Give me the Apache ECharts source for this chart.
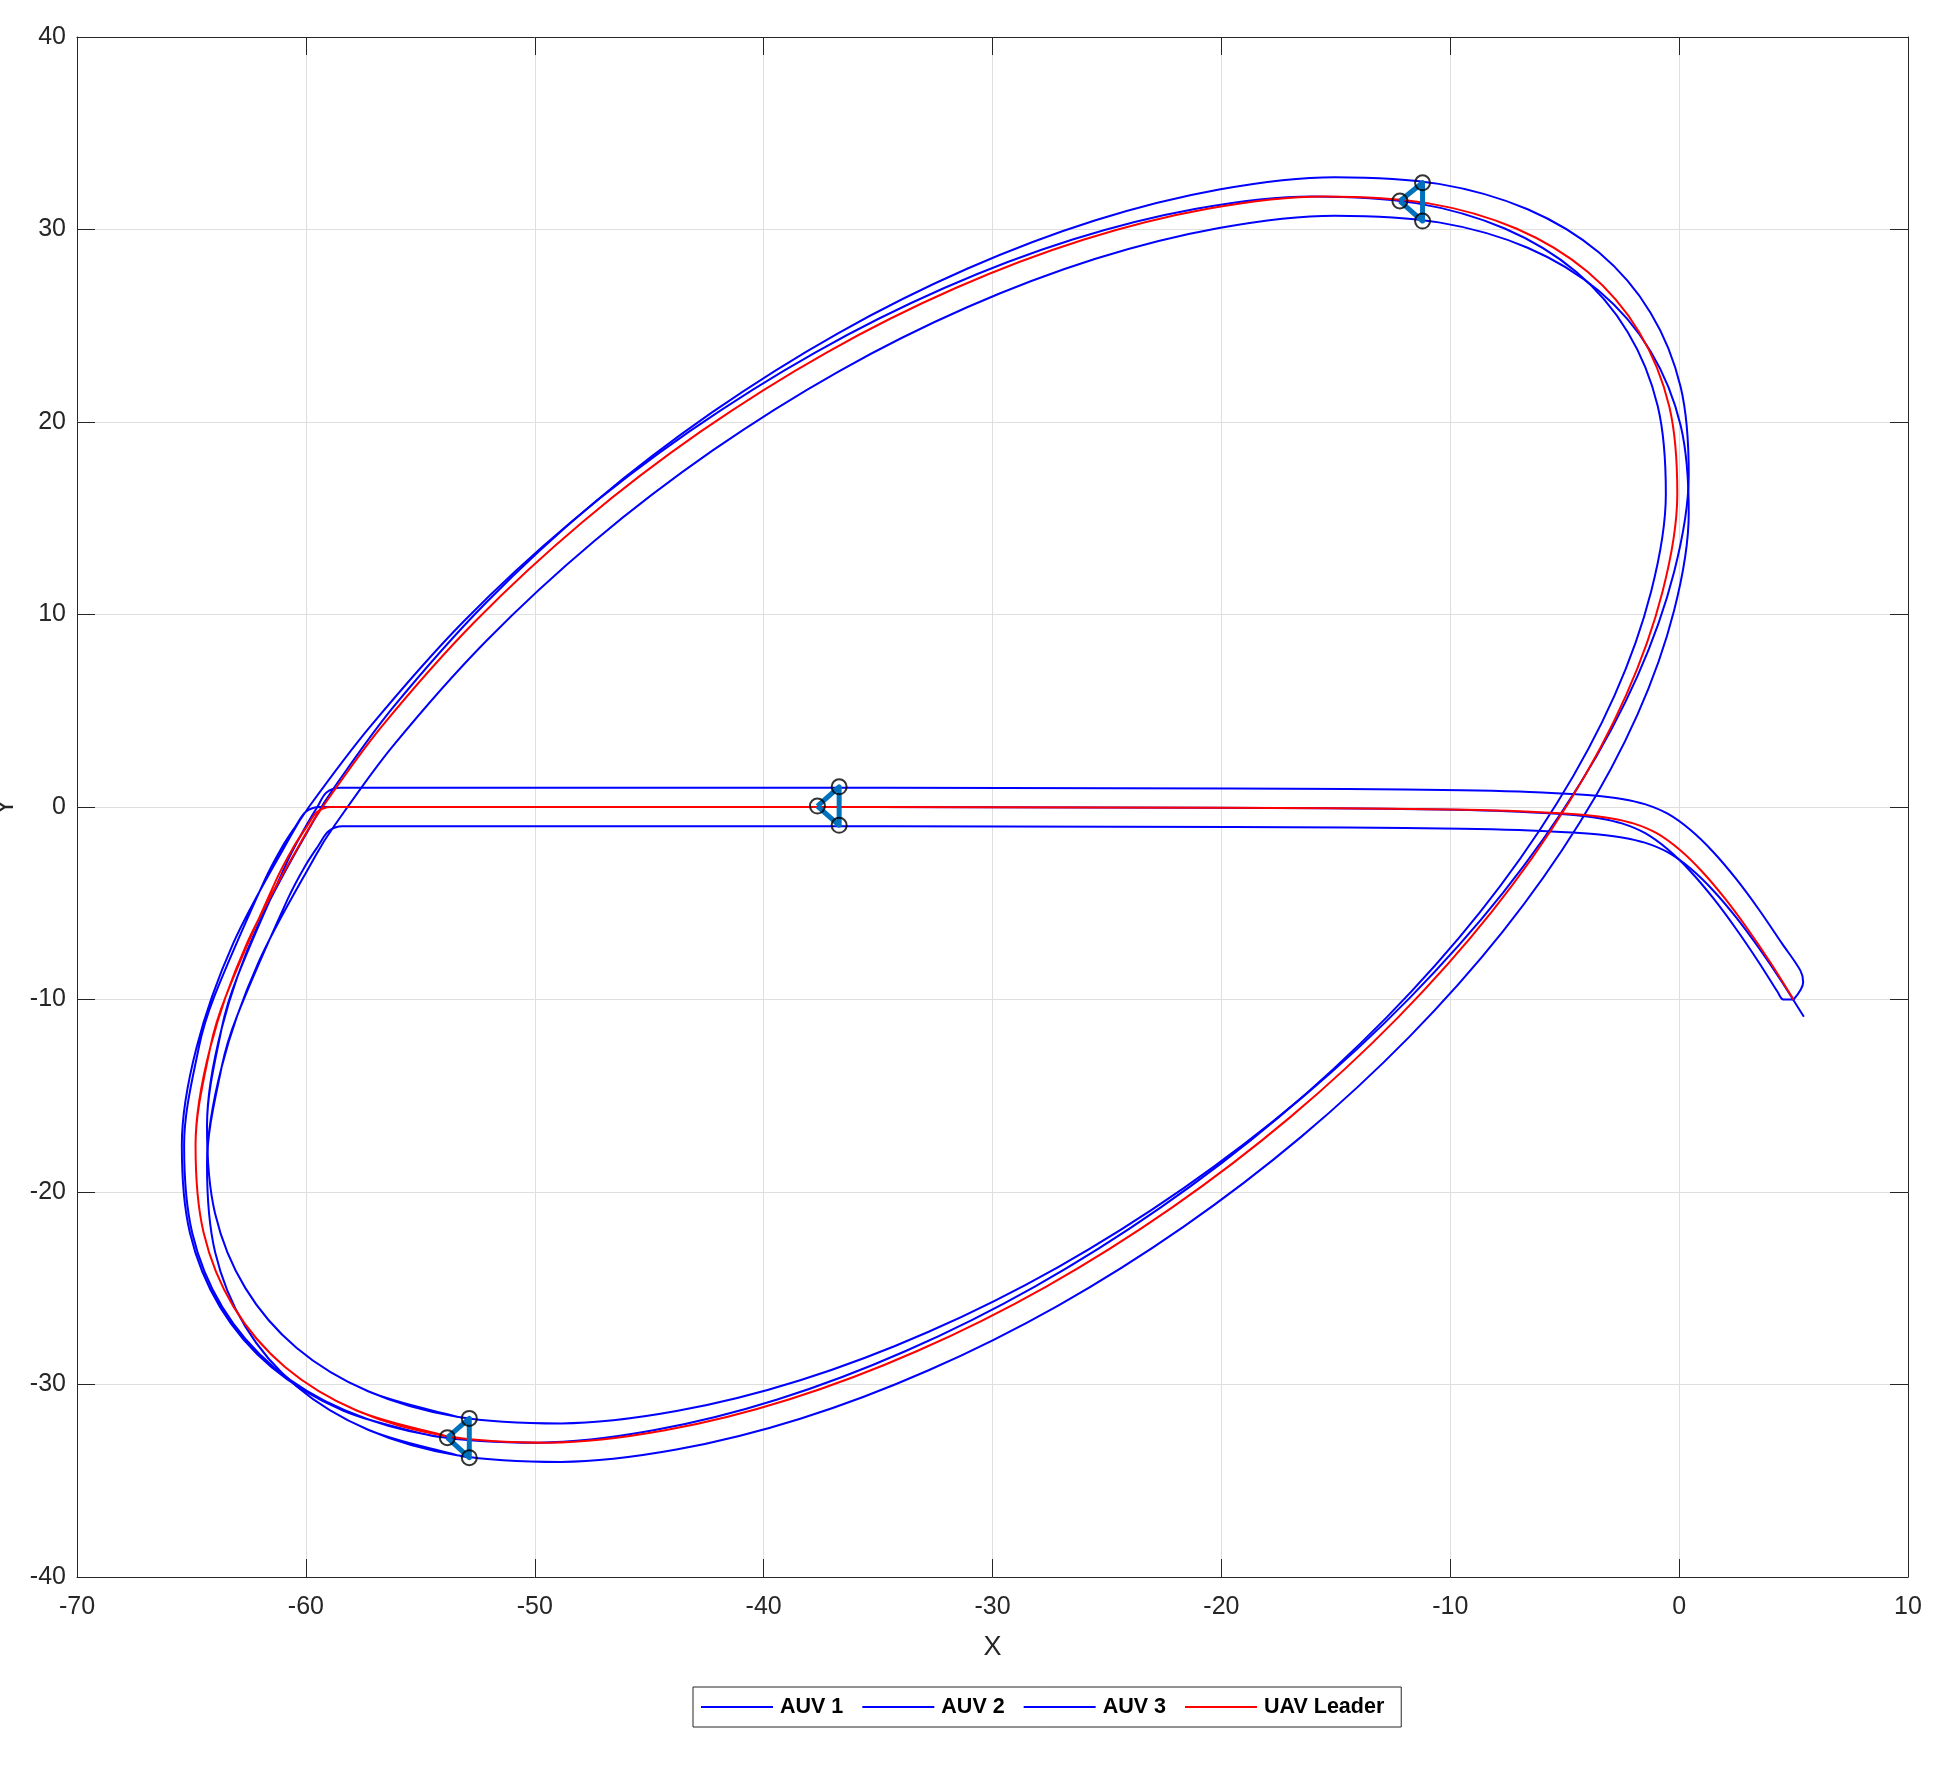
<!DOCTYPE html>
<html><head><meta charset="utf-8">
<script src="https://cdn.jsdelivr.net/npm/echarts@6/dist/echarts.min.js"></script>
<style>html,body{margin:0;padding:0;background:#fff}#c{width:1959px;height:1767px}</style>
</head><body><div id="c"></div>
<script>
const xTicks = [-70,-60,-50,-40,-30,-20,-10,0,10];
const yTicks = [-40,-30,-20,-10,0,10,20,30,40];
const seriesNames = ['AUV 1','AUV 2','AUV 3','UAV Leader'];

const leaderPath = [[5.0,-10.0],[4.0,-8.1],[3.0,-6.35],[2.0,-4.75],[1.0,-3.35],[0.0,-2.2],[-1.0,-1.35],[-2.0,-0.85],[-3.0,-0.58],[-4.0,-0.43],[-5.2,-0.33],[-7.5,-0.2],[-10.0,-0.13],[-15.0,-0.07],[-20.0,-0.04],[-30.0,-0.01],[-40.0,0.0],[-50.0,0.0],[-57.0,0.0],[-58.9,0.0],[-59.5,-0.25],[-59.95,-1.0],[-60.55,-2.1],[-61.3,-3.8],[-63.5,-9.84],
[-64.18,-12.51],[-64.82,-17.56],[-64.47,-22.10],[-63.15,-25.98],[-60.90,-29.10],[-57.78,-31.35],[-53.90,-32.67],[-49.36,-33.02],[-44.31,-32.38],[-38.90,-30.78],[-33.29,-28.26],[-27.65,-24.91],[-22.16,-20.81],[-16.99,-16.11],[-12.29,-10.94],[-8.19,-5.45],[-4.84,0.19],[-2.32,5.80],[-0.72,11.21],[-0.08,16.26],[-0.43,20.80],[-1.75,24.68],[-4.00,27.80],[-7.12,30.05],[-11.00,31.37],[-15.54,31.72],[-20.60,31.08],[-26.00,29.48],[-31.61,26.96],[-37.25,23.61],[-42.74,19.51],[-47.91,14.81],[-52.61,9.64],[-56.71,4.15],
[-59.27,0.0],[-60.06,-1.49],[-62.58,-7.10],[-64.18,-12.51],[-64.82,-17.56],[-64.47,-22.10],[-63.15,-25.98],[-60.90,-29.10],[-57.78,-31.35],[-53.90,-32.67],[-53.3,-32.8]];

const auv1Path = [[5.0,-10.0],[4.55,-10.0],[4.3,-9.6],[3.5,-8.1],[2.5,-6.35],[1.5,-4.75],[0.5,-3.35],[-0.5,-2.2],[-1.5,-1.35],[-2.5,-0.85],[-3.5,-0.58],[-4.5,-0.43],[-5.7,-0.33],[-8.0,-0.2],[-10.5,-0.13],[-15.5,-0.07],[-20.5,-0.04],[-30.5,-0.01],[-40.5,0.0],[-50.5,0.0],[-57.5,0.0],[-59.4,0.0],[-60.0,-0.25],[-60.45,-1.0],[-61.05,-2.1],[-61.8,-3.8],[-64.0,-9.84],
[-64.68,-12.51],[-65.32,-17.56],[-64.97,-22.10],[-63.65,-25.98],[-61.40,-29.10],[-58.28,-31.35],[-54.40,-32.67],[-49.86,-33.02],[-44.81,-32.38],[-39.40,-30.78],[-33.79,-28.26],[-28.15,-24.91],[-22.66,-20.81],[-17.49,-16.11],[-12.79,-10.94],[-8.69,-5.45],[-5.34,0.19],[-2.82,5.80],[-1.22,11.21],[-0.58,16.26],[-0.93,20.80],[-2.25,24.68],[-4.50,27.80],[-7.62,30.05],[-11.50,31.37],[-16.04,31.72],[-21.10,31.08],[-26.50,29.48],[-32.11,26.96],[-37.75,23.61],[-43.24,19.51],[-48.41,14.81],[-53.11,9.64],[-57.21,4.15],
[-59.87,0.0],[-60.66,-1.49],[-63.18,-7.10],[-64.78,-12.51],[-65.42,-17.56],[-65.07,-22.10],[-63.75,-25.98],[-61.50,-29.10],[-58.38,-31.35],[-54.50,-32.67],[-53.82,-32.76]];

const auv2Path = [[5.0,-10.0],[5.42,-9.1],[5.3,-8.5],[4.5,-7.1],[3.5,-5.35],[2.5,-3.75],[1.5,-2.35],[0.5,-1.2],[-0.5,-0.35],[-1.5,0.15],[-2.5,0.42],[-3.5,0.57],[-4.7,0.67],[-7.0,0.8],[-9.5,0.87],[-14.5,0.93],[-19.5,0.96],[-29.5,0.99],[-39.5,1.0],[-49.5,1.0],[-56.5,1.0],[-58.5,1.0],[-59.1,0.75],[-59.5,0.0],[-60.05,-1.1],[-60.8,-2.8],[-63.0,-8.84],
[-63.68,-11.51],[-64.32,-16.56],[-63.97,-21.10],[-62.65,-24.98],[-60.40,-28.10],[-57.28,-30.35],[-53.40,-31.67],[-48.86,-32.02],[-43.81,-31.38],[-38.40,-29.78],[-32.79,-27.26],[-27.15,-23.91],[-21.66,-19.81],[-16.49,-15.11],[-11.79,-9.94],[-7.69,-4.45],[-4.34,1.19],[-1.82,6.80],[-0.22,12.21],[0.42,17.26],[0.07,21.80],[-1.25,25.68],[-3.50,28.80],[-6.62,31.05],[-10.50,32.37],[-15.04,32.72],[-20.10,32.08],[-25.50,30.48],[-31.11,27.96],[-36.75,24.61],[-42.24,20.51],[-47.41,15.81],[-52.11,10.64],[-56.21,5.15],
[-58.77,1.0],[-59.56,-0.49],[-62.08,-6.10],[-63.68,-11.51],[-64.32,-16.56],[-63.97,-21.10],[-62.65,-24.98],[-60.40,-28.10],[-57.28,-30.35],[-53.40,-31.67],[-52.86,-31.76]];

const auv3Path = [[5.45,-10.9],[4.5,-9.1],[3.5,-7.35],[2.5,-5.75],[1.5,-4.35],[0.5,-3.2],[-0.5,-2.35],[-1.5,-1.85],[-2.5,-1.58],[-3.5,-1.43],[-4.7,-1.33],[-7.0,-1.2],[-9.5,-1.13],[-14.5,-1.07],[-19.5,-1.04],[-29.5,-1.01],[-39.5,-1.0],[-49.5,-1.0],[-56.5,-1.0],[-58.4,-1.0],[-59.0,-1.25],[-59.45,-2.0],[-60.05,-3.1],[-60.8,-4.8],[-63.0,-10.84],
[-63.68,-13.51],[-64.32,-18.56],[-63.97,-23.10],[-62.65,-26.98],[-60.40,-30.10],[-57.28,-32.35],[-53.40,-33.67],[-48.86,-34.02],[-43.81,-33.38],[-38.40,-31.78],[-32.79,-29.26],[-27.15,-25.91],[-21.66,-21.81],[-16.49,-17.11],[-11.79,-11.94],[-7.69,-6.45],[-4.34,-0.81],[-1.82,4.80],[-0.22,10.21],[0.42,15.26],[0.07,19.80],[-1.25,23.68],[-3.50,26.80],[-6.62,29.05],[-10.50,30.37],[-15.04,30.72],[-20.10,30.08],[-25.50,28.48],[-31.11,25.96],[-36.75,22.61],[-42.24,18.51],[-47.41,13.81],[-52.11,8.64],[-56.21,3.15],
[-58.77,-1.0],[-59.56,-2.49],[-62.08,-8.10],[-63.68,-13.51],[-64.32,-18.56],[-63.97,-23.10],[-62.65,-26.98],[-60.40,-30.10],[-57.28,-32.35],[-53.40,-33.67],[-52.86,-33.8]];

const formationA = [[-37.65,0.05],[-36.7,1.05],[-36.7,-0.95]];
const formationB = [[-12.2,31.48],[-11.21,32.43],[-11.21,30.44]];
const formationC = [[-53.82,-32.76],[-52.86,-31.76],[-52.86,-33.8]];

const FONT = "'Liberation Sans',Arial,Helvetica,sans-serif";
const AX = '#262626';

function pathSeries(name, data, color){
  return {name, type:'line', data, symbol:'none', showSymbol:false, smooth:0.33,
    lineStyle:{color, width:2}, itemStyle:{color}, z:2, animation:false};
}
function triSeries(pts){
  return {type:'line', data: pts.concat([pts[0]]), symbol:'none', smooth:false,
    lineStyle:{color:'#0072BD', width:5, join:'round'}, z:3, animation:false, silent:true};
}
const baseAxis = {
  type:'value', axisLine:{show:true, onZero:false, lineStyle:{color:AX, width:1}},
  axisTick:{show:true, inside:true, length:18, lineStyle:{color:AX, width:1}},
  splitLine:{show:false}
};
const chart = echarts.init(document.getElementById('c'));
chart.setOption({
  animation:false,
  backgroundColor:'#ffffff',
  grid:{left:77, right:51, top:37, bottom:190, containLabel:false, outerBoundsMode:'none'},
  xAxis:[
    Object.assign({}, baseAxis, {position:'bottom', min:xTicks[0], max:xTicks[xTicks.length-1], interval:xTicks[1]-xTicks[0],
      splitLine:{show:true, lineStyle:{color:'#dfdfdf', width:1}},
      axisLabel:{show:true, margin:18, color:AX, fontSize:25, fontFamily:FONT, showMinLabel:true, showMaxLabel:true},
      name:'X', nameLocation:'middle', nameGap:57, nameTextStyle:{color:AX, fontSize:27, fontFamily:FONT}}),
    Object.assign({}, baseAxis, {position:'top', min:xTicks[0], max:xTicks[xTicks.length-1], interval:xTicks[1]-xTicks[0], axisLabel:{show:false}})
  ],
  yAxis:[
    Object.assign({}, baseAxis, {position:'left', min:yTicks[0], max:yTicks[yTicks.length-1], interval:yTicks[1]-yTicks[0],
      splitLine:{show:true, lineStyle:{color:'#dfdfdf', width:1}},
      axisLabel:{show:true, margin:11, color:AX, fontSize:25, fontFamily:FONT, showMinLabel:true, showMaxLabel:true},
      name:'Y', nameLocation:'middle', nameGap:47, nameRotate:90, nameTextStyle:{color:AX, fontSize:27, fontFamily:FONT}}),
    Object.assign({}, baseAxis, {position:'right', min:yTicks[0], max:yTicks[yTicks.length-1], interval:yTicks[1]-yTicks[0], axisLabel:{show:false}})
  ],
  legend:{
    data:seriesNames, left:693, top:1687, orient:'horizontal',
    icon:'rect', itemWidth:72, itemHeight:2, itemGap:19,
    padding:[9,17,9,8], borderColor:AX, borderWidth:1, backgroundColor:'#ffffff',
    textStyle:{color:'#000', fontSize:21.5, fontWeight:'bold', fontFamily:FONT, padding:[0,0,0,2]}
  },
  series:[
    pathSeries(seriesNames[0], auv1Path, '#0000ff'),
    pathSeries(seriesNames[1], auv2Path, '#0000ff'),
    pathSeries(seriesNames[2], auv3Path, '#0000ff'),
    pathSeries(seriesNames[3], leaderPath, '#ff0000'),
    triSeries(formationA), triSeries(formationB), triSeries(formationC),
    {type:'scatter', data: formationA.concat(formationB, formationC), symbol:'circle', symbolSize:15,
     itemStyle:{color:'rgba(0,0,0,0)', borderColor:'#000', borderWidth:2}, z:4, silent:true, animation:false}
  ]
});
</script></body></html>
